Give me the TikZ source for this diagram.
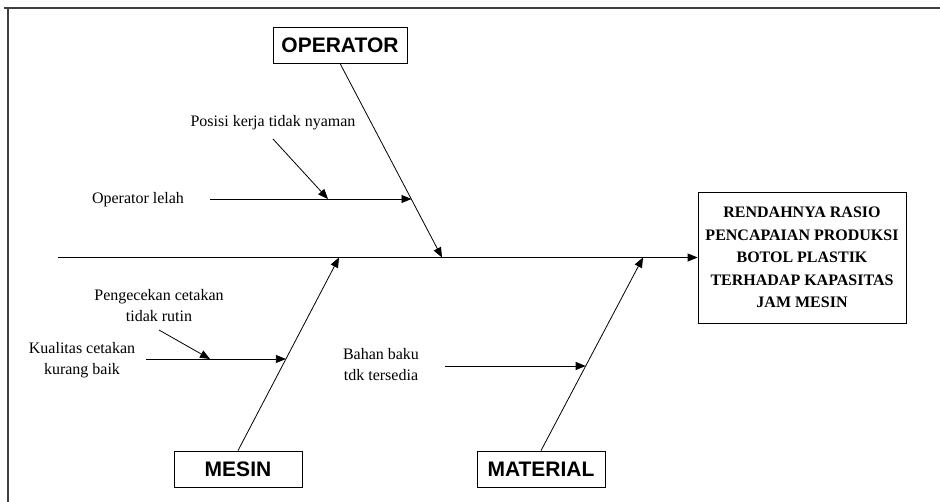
\documentclass[tikz,border=0pt]{standalone}
\usepackage{fontspec}
\setmainfont{Liberation Serif}
\newfontfamily\catfont{Liberation Sans}
\usetikzlibrary{arrows.meta,calc}
\begin{document}
\begin{tikzpicture}[x=1pt,y=-1pt,
  line/.style={line width=0.8pt,draw=black},
  arr/.style={line width=0.8pt,draw=black,-{Triangle[length=10pt,width=8pt]}},
  catbox/.style={draw,line width=0.8pt,minimum height=36pt,inner sep=0pt,
     font=\catfont\bfseries\fontsize{21}{24}\selectfont},
  lbl/.style={inner sep=0pt,align=center,font=\fontsize{16}{21}\selectfont},
  effbox/.style={draw,line width=0.8pt,minimum width=208pt,minimum height=131pt,
     inner sep=0pt,align=center,font=\bfseries\fontsize{16}{22.5}\selectfont},
  frame/.style={line width=1.3pt,draw=black!75}]
\useasboundingbox (0,0) rectangle (940,502);
% frame
\coordinate (fTL) at (8,8);
\coordinate (fTR) at (940,8);
\coordinate (fBL) at (8,502);
\coordinate (fT0) at (4,8);
\draw[frame] (fT0) -- (fTR);
\draw[frame] (fTL) -- (fBL);
% effect
\node[effbox] (eff) at (802,257.5) {RENDAHNYA RASIO\\PENCAPAIAN PRODUKSI\\BOTOL PLASTIK\\TERHADAP KAPASITAS\\JAM MESIN};
\coordinate (spL) at (58,257.5);
\draw[arr] (spL) -- (eff.west);
% category boxes
\node[catbox,minimum width=134pt] (op) at (340,45) {OPERATOR};
\node[catbox,minimum width=128pt] (mes) at (238,469) {MESIN};
\node[catbox,minimum width=128pt] (mat) at (541,469) {MATERIAL};
% tips on spine
\coordinate (opTip) at (442,257.5);
\coordinate (mesTip) at (339,257.5);
\coordinate (matTip) at (643,257.5);
\draw[arr] (op.south) -- (opTip);
\draw[arr] (mes.north) -- (mesTip);
\draw[arr] (mat.north) -- (matTip);
% points on bones
\coordinate (opP) at ($(op.south)!0.701!(opTip)$);
\coordinate (mesP) at ($(mes.north)!0.474!(mesTip)$);
\coordinate (matP) at ($(mat.north)!0.438!(matTip)$);
% operator causes
\node[lbl] (lelah) at (138,200) {Operator lelah};
\coordinate (lelahS) at (210,199);
\draw[arr] (lelahS) -- (lelahS -| opP);
\node[lbl] (posisi) at (273,123) {Posisi kerja tidak nyaman};
\coordinate (posS) at (273,139);
\coordinate (posE) at (328,199);
\draw[arr] (posS) -- (posE);
% mesin causes
\node[lbl] (kual) at (82,360) {Kualitas cetakan\\kurang baik};
\coordinate (kualS) at (146,359);
\draw[arr] (kualS) -- (kualS -| mesP);
\node[lbl] (peng) at (159,306) {Pengecekan cetakan\\tidak rutin};
\coordinate (pengS) at (159,330);
\coordinate (pengE) at (210,359);
\draw[arr] (pengS) -- (pengE);
% material causes
\node[lbl] (bahan) at (381,365) {Bahan baku\\tdk tersedia};
\coordinate (bahanS) at (445,366);
\draw[arr] (bahanS) -- (bahanS -| matP);
\end{tikzpicture}
\end{document}
